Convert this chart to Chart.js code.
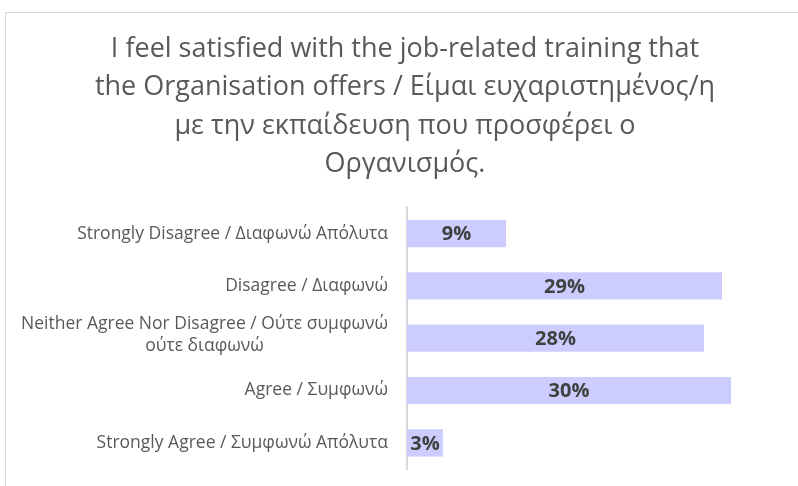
<!DOCTYPE html>
<html>
<head>
<meta charset="utf-8">
<script src="https://cdn.jsdelivr.net/npm/chart.js@4"></script>
<style>
  html, body { margin: 0; padding: 0; background: #fff; }
  #wrap { position: relative; width: 798px; height: 486px; overflow: hidden; }
  #frame { position: absolute; left: 5px; top: 12px; width: 900px; height: 600px;
           border-left: 1px solid #d9d9d9; border-top: 1px solid #d9d9d9; }
  canvas { position: absolute; left: 0; top: 0; }
</style>
</head>
<body>
<div id="wrap">
  <div id="frame"></div>
  <canvas id="training" width="798" height="486"></canvas>
</div>
<script>
var ctx = document.getElementById('training')

const titleLines = [
  'I feel satisfied with the job-related training that',
  'the Organisation offers / Είμαι ευχαριστημένος/η',
  'με την εκπαίδευση που προσφέρει ο',
  'Οργανισμός.'
]
const categories = [
  'Strongly Disagree / Διαφωνώ Απόλυτα',
  'Disagree / Διαφωνώ',
  ['Neither Agree Nor Disagree / Ούτε συμφωνώ', 'ούτε διαφωνώ'],
  'Agree / Συμφωνώ',
  'Strongly Agree / Συμφωνώ Απόλυτα'
]
const percents = [9.17, 29.17, 27.5, 30.0, 3.33]

const FONT = '"Open Sans", "DejaVu Sans", sans-serif'

// category labels: single lines right aligned, wrapped lines centred on each other
const catLabels = {
  id: 'catLabels',
  afterDraw(chart) {
    const y = chart.scales.y
    const c = chart.ctx
    const right = y.right - 19
    c.save()
    c.font = '17.5px ' + FONT
    c.fillStyle = '#595959'
    c.textBaseline = 'middle'
    y.getLabels().forEach((lab, i) => {
      const py = y.getPixelForTick(i)
      if (Array.isArray(lab)) {
        const w = Math.max(...lab.map(l => c.measureText(l).width))
        const lh = 22
        c.textAlign = 'center'
        lab.forEach((l, j) => {
          c.fillText(l, right - w / 2, py - 3 + (j - (lab.length - 1) / 2) * lh)
        })
      } else {
        c.textAlign = 'right'
        c.fillText(lab, right, py)
      }
    })
    c.restore()
  }
}

// value labels in the middle of each bar
const barLabels = {
  id: 'barLabels',
  afterDatasetsDraw(chart) {
    const c = chart.ctx
    const meta = chart.getDatasetMeta(0)
    c.save()
    c.font = 'bold 20px ' + FONT
    c.fillStyle = '#404040'
    c.textAlign = 'center'
    c.textBaseline = 'middle'
    meta.data.forEach((bar, i) => {
      const p = bar.getProps(['x', 'y', 'base'], true)
      c.fillText(Math.round(percents[i]) + '%', (p.x + p.base) / 2, p.y + 1)
    })
    c.restore()
  }
}

var myChart = new Chart(ctx, {
  type: 'bar',
  data: {
    labels: categories,
    datasets: [{
      data: percents,
      backgroundColor: '#ccccff',
      borderWidth: 0,
      categoryPercentage: 1,
      barPercentage: 0.52
    }]
  },
  options: {
    indexAxis: 'y',
    responsive: false,
    animation: false,
    layout: { padding: { left: 25, right: 13, top: 0, bottom: 17 } },
    plugins: {
      legend: { display: false },
      tooltip: { enabled: false },
      title: {
        display: true,
        text: titleLines,
        color: '#595959',
        font: { family: FONT, size: 27, weight: 'normal', lineHeight: 1.42 },
        padding: { top: 30, bottom: 24 }
      }
    },
    scales: {
      x: { display: false, min: 0, max: 35 },
      y: {
        grid: { display: false, drawTicks: false },
        border: { display: true, color: '#d9d9d9', width: 2 },
        ticks: { display: false },
        afterFit(scale) { scale.width = 382 }
      }
    }
  },
  plugins: [catLabels, barLabels]
})
</script>
</body>
</html>
